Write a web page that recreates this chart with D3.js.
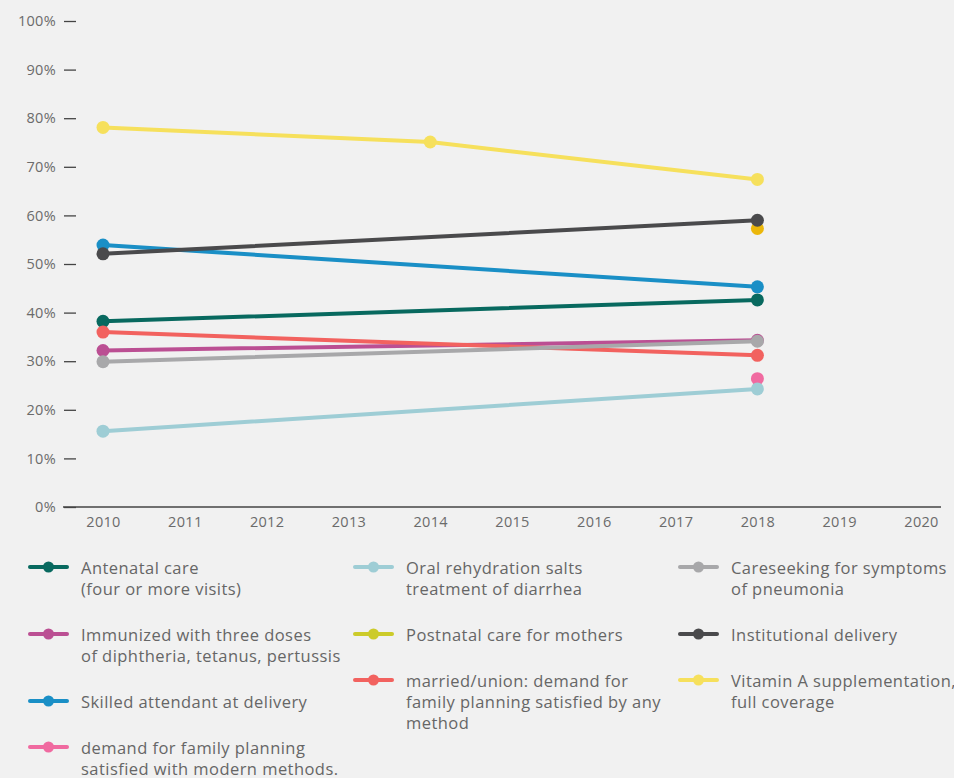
<!DOCTYPE html>
<html><head><meta charset="utf-8">
<script src="https://cdn.jsdelivr.net/npm/d3@7"></script>
<style>
html,body{margin:0;padding:0;background:#f1f1f1;}
svg{display:block;font-family:"Open Sans","Noto Sans",sans-serif;}
</style></head>
<body><svg id="chart" width="954" height="778"></svg>
<script>
const years = [2010, 2011, 2012, 2013, 2014, 2015, 2016, 2017, 2018, 2019, 2020];
const yTicks = [0, 10, 20, 30, 40, 50, 60, 70, 80, 90, 100];

const seriesNames = [
  "Antenatal care\n(four or more visits)",
  "Immunized with three doses\nof diphtheria, tetanus, pertussis",
  "Skilled attendant at delivery",
  "demand for family planning\nsatisfied with modern methods.",
  "Oral rehydration salts\ntreatment of diarrhea",
  "Postnatal care for mothers",
  "married/union: demand for\nfamily planning satisfied by any\nmethod",
  "Careseeking for symptoms\nof pneumonia",
  "Institutional delivery",
  "Vitamin A supplementation,\nfull coverage"
];
const seriesColors = ["#08695f","#bb4f93","#1a8fc6","#f06aa0","#9ecdd5","#ebb70a","#f2625f","#a8a8aa","#4a4a4c","#f6e05c"];
const legendColors = ["#08695f","#bb4f93","#1a8fc6","#f06aa0","#9ecdd5","#cccb2a","#f2625f","#a8a8aa","#4a4a4c","#f6e05c"];
const seriesYears = [
  [2010, 2018],
  [2010, 2018],
  [2010, 2018],
  [2018],
  [2010, 2018],
  [2018],
  [2010, 2018],
  [2010, 2018],
  [2010, 2018],
  [2010, 2014, 2018]
];
const seriesValues = [
  [38.2, 42.6],
  [32.2, 34.3],
  [53.9, 45.3],
  [26.4],
  [15.6, 24.3],
  [57.3],
  [36.0, 31.2],
  [29.9, 34.1],
  [52.1, 59.0],
  [78.1, 75.1, 67.4]
];
// legend columns (indices into series)
const legendCols = [[0,1,2,3],[4,5,6],[7,8,9]];

const svg = d3.select("#chart");
const x = d3.scaleLinear().domain([2010, 2020]).range([103, 921]);
const y = d3.scaleLinear().domain([0, 100]).range([507, 21]);

// Y axis (tick marks + labels, no domain line)
const yAxis = d3.axisLeft(y).tickValues(yTicks).tickFormat(d => d + "%").tickSize(12).tickPadding(8);
const gy = svg.append("g").attr("transform", "translate(76,0)").call(yAxis);
gy.select(".domain").remove();
gy.selectAll(".tick line").attr("stroke", "#444").attr("stroke-width", 1.3);
gy.selectAll(".tick text").attr("fill", "#6b6b6b").style("font-size", "14.5px").style("letter-spacing", "0.3px").style("font-family", "'Open Sans',sans-serif");

// X axis
const xAxis = d3.axisBottom(x).tickValues(years).tickFormat(d3.format("d")).tickSize(0).tickPadding(10);
const gx = svg.append("g").attr("transform", "translate(0,507)").call(xAxis);
gx.select(".domain").attr("d", "M63,0H941").attr("stroke", "#444").attr("stroke-width", 1.5);
gx.selectAll(".tick text").attr("fill", "#6b6b6b").style("font-size", "14.5px").style("letter-spacing", "0.3px").style("font-family", "'Open Sans',sans-serif");

// Lines & points
const line = d3.line().x(d => x(d[0])).y(d => y(d[1]));
seriesNames.forEach((name, i) => {
  const pts = seriesYears[i].map((yr, j) => [yr, seriesValues[i][j]]);
  const g = svg.append("g");
  if (pts.length > 1) {
    g.append("path").attr("d", line(pts)).attr("fill", "none")
      .attr("stroke", seriesColors[i]).attr("stroke-width", 4).attr("stroke-linecap", "round");
  }
  g.selectAll("circle").data(pts).enter().append("circle")
    .attr("cx", d => x(d[0])).attr("cy", d => y(d[1])).attr("r", 6.5)
    .attr("fill", seriesColors[i]);
});

// Legend
const colX = [30, 355, 680];
const lineH = 21;
legendCols.forEach((col, c) => {
  let yy = 567;
  col.forEach(i => {
    const lines = seriesNames[i].split("\n");
    const g = svg.append("g").attr("transform", `translate(${colX[c]},${yy})`);
    g.append("line").attr("x1", 0).attr("x2", 37).attr("y1", 0).attr("y2", 0)
      .attr("stroke", legendColors[i]).attr("stroke-width", 4).attr("stroke-linecap", "round");
    g.append("circle").attr("cx", 18.5).attr("cy", 0).attr("r", 5.5).attr("fill", legendColors[i]);
    const t = g.append("text").attr("x", 51).attr("y", 0).attr("fill", "#666")
      .style("font-size", "16.5px").style("letter-spacing", "0.45px").attr("dominant-baseline", "central");
    lines.forEach((ln, k) => t.append("tspan").attr("x", 51).attr("dy", k === 0 ? 0 : lineH).text(ln));
    yy += lines.length * lineH + 25;
  });
});
</script></body></html>
